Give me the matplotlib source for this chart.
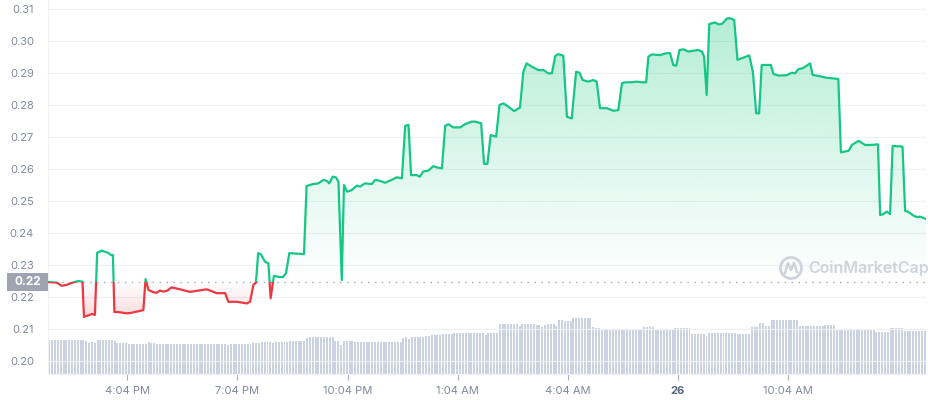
import numpy as np
import matplotlib.pyplot as plt
import matplotlib.transforms as mtransforms
from matplotlib.patches import Rectangle, Ellipse
from matplotlib.lines import Line2D

plt.rcParams['font.family'] = ['Inter', 'DejaVu Sans']

# price line: hours counted from midnight of the 25th, price in USD
hours = [13.90, 14.14, 14.27, 14.41, 14.59, 14.73, 14.84, 14.88, 14.96, 15.10,
         15.18, 15.24, 15.36, 15.54, 15.62, 15.67, 15.71, 15.81, 16.05, 16.14,
         16.27, 16.50, 16.56, 16.64, 16.77, 16.86, 16.95, 17.04, 17.14, 17.27,
         17.50, 17.77, 18.23, 18.50, 18.73, 18.82, 19.05, 19.32, 19.41, 19.50,
         19.57, 19.63, 19.70, 19.82, 19.91, 19.97, 20.06, 20.18, 20.30, 20.39,
         20.48, 20.88, 20.95, 21.13, 21.27, 21.41, 21.50, 21.57, 21.66, 21.75,
         21.82, 21.91, 21.97, 22.06, 22.18, 22.32, 22.41, 22.54, 22.73, 22.82,
         22.95, 23.09, 23.27, 23.41, 23.55, 23.64, 23.73, 23.80, 23.95, 24.04,
         24.13, 24.27, 24.41, 24.50, 24.64, 24.73, 24.82, 24.95, 25.14, 25.27,
         25.45, 25.54, 25.71, 25.79, 25.88, 25.97, 26.12, 26.21, 26.32, 26.45,
         26.61, 26.77, 26.86, 26.95, 27.09, 27.27, 27.41, 27.54, 27.64, 27.73,
         27.82, 27.95, 28.05, 28.18, 28.30, 28.39, 28.48, 28.63, 28.77, 28.86,
         28.95, 29.14, 29.32, 29.45, 29.55, 29.64, 29.82, 29.95, 30.09, 30.21,
         30.27, 30.36, 30.59, 30.77, 30.86, 30.95, 31.03, 31.12, 31.23, 31.36,
         31.63, 31.73, 31.79, 31.86, 31.93, 32.09, 32.18, 32.27, 32.42, 32.50,
         32.61, 32.70, 32.86, 33.02, 33.12, 33.21, 33.29, 33.36, 33.61, 33.68,
         33.82, 34.04, 34.18, 34.27, 34.36, 34.48, 34.68, 34.75, 34.90, 35.13,
         35.32, 35.45, 35.52, 35.73, 35.82, 36.00, 36.18, 36.32, 36.53, 36.59,
         36.68, 36.77, 36.86, 36.93, 37.20, 37.27, 37.36, 37.50, 37.59, 37.68,
         37.84]
price = [0.2247, 0.2245, 0.2235, 0.2238, 0.2246, 0.2250, 0.2248, 0.2138, 0.2141, 0.2147,
         0.2144, 0.2338, 0.2345, 0.2338, 0.2331, 0.2331, 0.2153, 0.2153, 0.2149, 0.2150,
         0.2153, 0.2159, 0.2256, 0.2222, 0.2215, 0.2213, 0.2220, 0.2217, 0.2219, 0.2230,
         0.2224, 0.2216, 0.2224, 0.2212, 0.2212, 0.2185, 0.2185, 0.2180, 0.2185, 0.2238,
         0.2245, 0.2337, 0.2334, 0.2310, 0.2305, 0.2196, 0.2266, 0.2263, 0.2262, 0.2274,
         0.2337, 0.2334, 0.2547, 0.2553, 0.2555, 0.2566, 0.2563, 0.2555, 0.2576, 0.2574,
         0.2560, 0.2253, 0.2550, 0.2529, 0.2534, 0.2548, 0.2545, 0.2555, 0.2553, 0.2566,
         0.2563, 0.2557, 0.2566, 0.2574, 0.2571, 0.2735, 0.2738, 0.2581, 0.2581, 0.2576,
         0.2592, 0.2595, 0.2609, 0.2605, 0.2602, 0.2735, 0.2740, 0.2730, 0.2730, 0.2740,
         0.2748, 0.2748, 0.2743, 0.2616, 0.2616, 0.2706, 0.2701, 0.2800, 0.2805, 0.2795,
         0.2781, 0.2792, 0.2904, 0.2930, 0.2920, 0.2909, 0.2909, 0.2899, 0.2899, 0.2953,
         0.2959, 0.2954, 0.2763, 0.2758, 0.2904, 0.2901, 0.2878, 0.2873, 0.2878, 0.2873,
         0.2790, 0.2790, 0.2782, 0.2784, 0.2868, 0.2871, 0.2871, 0.2873, 0.2871, 0.2871,
         0.2951, 0.2958, 0.2956, 0.2962, 0.2962, 0.2925, 0.2923, 0.2972, 0.2974, 0.2967,
         0.2972, 0.2967, 0.2951, 0.2831, 0.3053, 0.3058, 0.3052, 0.3053, 0.3071, 0.3071,
         0.3066, 0.2941, 0.2948, 0.2955, 0.2904, 0.2774, 0.2774, 0.2925, 0.2925, 0.2897,
         0.2892, 0.2893, 0.2901, 0.2899, 0.2912, 0.2915, 0.2930, 0.2894, 0.2891, 0.2885,
         0.2883, 0.2881, 0.2652, 0.2657, 0.2675, 0.2688, 0.2675, 0.2675, 0.2677, 0.2456,
         0.2459, 0.2467, 0.2459, 0.2672, 0.2670, 0.2469, 0.2466, 0.2454, 0.2450, 0.2451,
         0.2444]
open_price = 0.2247

# 24h volume under the line, read as runs of equal bars (millions)
vol_levels = [3.4, 3.3, 3.07, 3.17, 3.07, 3.4, 3.3, 3.1, 3.0, 3.17,
              3.1, 3.0, 2.9, 3.0, 3.1, 3.2, 3.1, 3.2, 3.3, 3.57,
              3.7, 3.3, 2.9, 3.3, 3.2, 3.57, 3.7, 3.5, 3.7, 3.8,
              3.9, 4.0, 4.1, 3.9, 4.1, 5.0, 4.8, 5.0, 4.9, 4.7,
              4.9, 5.0, 4.8, 5.4, 5.3, 5.6, 4.7, 4.6, 4.5, 4.5,
              4.67, 4.5, 4.57, 4.0, 3.83, 4.07, 4.0, 4.67, 5.07, 4.83,
              5.37, 4.77, 4.9, 4.47, 4.23, 4.57, 4.3]
vol_counts = [13, 1, 1, 1, 1, 6, 1, 4, 7, 1,
              2, 25, 1, 8, 3, 4, 1, 5, 6, 1,
              9, 2, 1, 4, 17, 1, 1, 1, 5, 2,
              4, 4, 11, 1, 4, 7, 1, 5, 2, 1,
              1, 3, 1, 2, 3, 7, 1, 2, 4, 11,
              4, 7, 6, 5, 1, 10, 5, 3, 2, 2,
              10, 9, 4, 14, 5, 5, 8]

tick_hours = [16.067, 19.067, 22.067, 25.067, 28.067, 31.067, 34.067]
tick_labels = ['4:04 PM', '7:04 PM', '10:04 PM', '1:04 AM', '4:04 AM', '26', '10:04 AM']
price_ticks = [0.20, 0.21, 0.22, 0.23, 0.24, 0.25, 0.26, 0.27, 0.28, 0.29, 0.30, 0.31]

GREEN = '#16c784'
RED = '#ea3943'
GREY = '#808a9d'

hours = np.array(hours)
price = np.array(price)
volume = np.repeat(vol_levels, vol_counts)

x0, x1 = 13.90, 37.84
y0, y1 = 0.19594, 0.31281

fig = plt.figure(figsize=(9.29, 4.0), dpi=100)
rect = [48 / 929, 26 / 400, 878 / 929, 374 / 400]

# volume axis sits underneath the price axis
axv = fig.add_axes(rect)
step = (x1 - x0) / len(volume)
bar_x = x0 + step * (np.arange(len(volume)) + 0.5)
axv.bar(bar_x, volume, width=step * 0.7, color='#cbd2e1', linewidth=0)
axv.set_xlim(x0, x1)
axv.set_ylim(0, 37.4)
axv.axis('off')

ax = fig.add_axes(rect)
ax.patch.set_alpha(0)
ax.set_xlim(x0, x1)
ax.set_ylim(y0, y1)

for t in price_ticks:
    ax.axhline(t, color='#eff2f5', lw=0.8, zorder=0)

# gradient fills clipped to the area between the line and the open price
poly = ax.fill_between(hours, price, open_price, facecolor='none', edgecolor='none')
clip = poly.get_paths()[0]

g = np.zeros((256, 1, 4))
g[..., :3] = np.array([22, 199, 132]) / 255
g[:, 0, 3] = np.linspace(0.0, 0.34, 256)
im = ax.imshow(g, extent=[x0, x1, open_price, y1], origin='lower', aspect='auto', zorder=1)
im.set_clip_path(clip, ax.transData)

r = np.zeros((256, 1, 4))
r[..., :3] = np.array([234, 57, 67]) / 255
r[:, 0, 3] = np.linspace(0.22, 0.0, 256)
im2 = ax.imshow(r, extent=[x0, x1, 0.212, open_price], origin='lower', aspect='auto', zorder=1)
im2.set_clip_path(clip, ax.transData)

# price line, green above the open and red below
up, = ax.plot(hours, price, color=GREEN, lw=1.6, zorder=3, solid_joinstyle='round')
up.set_clip_path(Rectangle((x0, open_price), x1 - x0, y1 - open_price, transform=ax.transData))
dn, = ax.plot(hours, price, color=RED, lw=1.6, zorder=3, solid_joinstyle='round')
dn.set_clip_path(Rectangle((x0, y0), x1 - x0, open_price - y0, transform=ax.transData))

ax.axhline(open_price, color='#a1a7bb', lw=1.0, ls=(0, (1, 4)), zorder=2)

ax.set_yticks(price_ticks)
ax.set_yticklabels(['%.2f' % t for t in price_ticks])
ax.set_xticks(tick_hours)
ax.set_xticklabels(tick_labels)
ax.tick_params(axis='y', length=0, pad=10, labelsize=8, labelcolor=GREY)
ax.tick_params(axis='x', length=4, width=0.8, color='#a6b0c3', pad=5, labelsize=8, labelcolor=GREY)
for lab in ax.get_xticklabels():
    if lab.get_text() == '26':
        lab.set_fontweight('bold')
        lab.set_color('#58667e')

for side in ['top', 'right']:
    ax.spines[side].set_visible(False)
for side in ['left', 'bottom']:
    ax.spines[side].set_color('#eff2f5')
    ax.spines[side].set_linewidth(0.8)

# current-open badge on the left
blend = mtransforms.blended_transform_factory(ax.transAxes, ax.transData)
badge_h = 18 / 374 * (y1 - y0)
ax.add_patch(Rectangle((-41 / 878, open_price - badge_h / 2), 41 / 878, badge_h,
                       transform=blend, facecolor='#9ea4b0', edgecolor='none', clip_on=False, zorder=5))
ax.text(-20.5 / 878, open_price, '%.2f' % open_price, transform=blend, ha='center', va='center',
        color='white', fontsize=8.5, fontweight='bold', zorder=6)

# watermark
wm = '#cfd3dc'
fig.patches.append(Ellipse((791 / 929, 1 - 268 / 400), 21 / 929, 21 / 400, transform=fig.transFigure,
                           fill=False, ec=wm, lw=2.0))
fig.add_artist(Line2D(np.array([785, 788, 791, 794, 797]) / 929,
                      1 - np.array([273, 263, 270, 263, 272]) / 400,
                      color=wm, lw=1.8))
fig.text(808 / 929, 1 - 268 / 400, 'CoinMarketCap', ha='left', va='center',
         color=wm, fontsize=11.5, fontweight='semibold')

fig.savefig('out.png', dpi=100)
